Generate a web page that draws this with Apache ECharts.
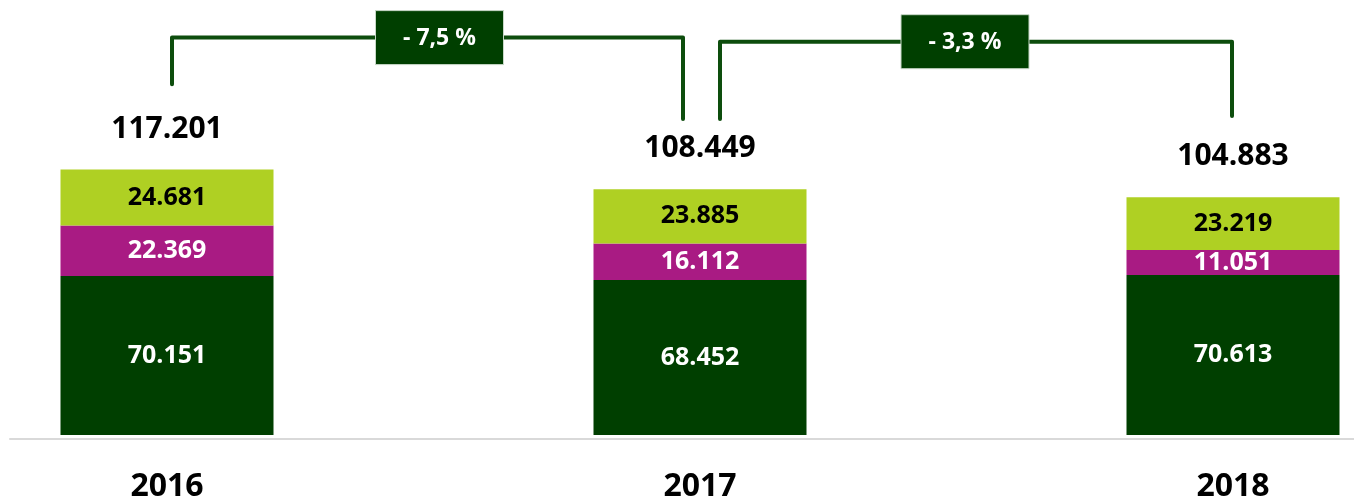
<!DOCTYPE html>
<html>
<head>
<meta charset="utf-8">
<script src="https://cdn.jsdelivr.net/npm/echarts@6/dist/echarts.min.js"></script>
<style>
html,body{margin:0;padding:0;background:#fff;}
#c{width:1354px;height:503px;}
</style>
</head>
<body>
<div id="c"></div>
<script>
const categories = ['2016', '2017', '2018'];
const baseValues = [70151, 68452, 70613];
const midValues = [22369, 16112, 11051];
const topValues = [24681, 23885, 23219];
const totals = [117201, 108449, 104883];
const changeLabels = ['- 7,5 %', '- 3,3 %'];

// bracket annotations (value-axis levels for the bracket line and its leg ends)
const brackets = [
  { from: 0, to: 1, level: 175400, legEnds: [154800, 139500], xShift: [5, -17], boxShift: 12 },
  { from: 1, to: 2, level: 173600, legEnds: [139500, 140800], xShift: [20, -1], boxShift: -11 }
];

const fmt = v => String(v).replace(/\B(?=(\d{3})+(?!\d))/g, '.');
const FONT = '"Open Sans", "Liberation Sans", sans-serif';
const DARK = '#003f00';
const MAG = '#a91b83';
const LIME = '#afd023';
const LINE = '#0d4d0d';

const chart = echarts.init(document.getElementById('c'), null, { renderer: 'canvas' });

const innerLabel = color => ({
  show: true,
  position: 'inside',
  color: color,
  fontFamily: FONT,
  fontWeight: 'bold',
  fontSize: 25,
  formatter: p => fmt(p.value)
});

chart.setOption({
  animation: false,
  backgroundColor: '#fff',
  grid: [
    { left: 167, right: 121, top: 0, bottom: 64 },
    { left: 10, right: 0, top: 0, bottom: 64 }
  ],
  xAxis: [
    {
      type: 'category',
      gridIndex: 0,
      boundaryGap: false,
      data: categories,
      axisLine: { show: false },
      axisTick: { show: false },
      axisLabel: {
        color: '#000',
        fontFamily: FONT,
        fontWeight: 'bold',
        fontSize: 32,
        margin: 36
      }
    },
    {
      type: 'value',
      gridIndex: 1,
      min: 0, max: 1,
      axisLine: { show: true, onZero: false, lineStyle: { color: '#d9d9d9', width: 2 } },
      axisTick: { show: false },
      axisLabel: { show: false },
      splitLine: { show: false }
    }
  ],
  yAxis: [
    { type: 'value', gridIndex: 0, min: 0, max: 192000, show: false },
    { type: 'value', gridIndex: 1, min: 0, max: 1, show: false }
  ],
  series: [
    {
      type: 'bar', stack: 'a', data: baseValues, barWidth: 213, clip: false,
      itemStyle: { color: DARK }, label: innerLabel('#fff')
    },
    {
      type: 'bar', stack: 'a', data: midValues, barWidth: 213, clip: false,
      itemStyle: { color: MAG }, label: innerLabel('#fff')
    },
    {
      type: 'bar', stack: 'a', data: topValues, barWidth: 213, clip: false,
      itemStyle: { color: LIME }, label: innerLabel('#000')
    },
    {
      type: 'line', data: totals, clip: false,
      symbol: 'circle', symbolSize: 1,
      itemStyle: { color: 'rgba(0,0,0,0)' },
      lineStyle: { width: 0, opacity: 0 },
      z: 5,
      label: {
        show: true, position: 'top', distance: 25,
        color: '#000', fontFamily: FONT, fontWeight: 'bold', fontSize: 30,
        formatter: p => fmt(p.value)
      }
    },
    {
      type: 'custom',
      xAxisIndex: 0, yAxisIndex: 0,
      data: brackets.map(b => [b.from, b.level]),
      clip: false,
      z: 10,
      renderItem: (params, api) => {
        const b = brackets[params.dataIndex];
        const l = api.coord([b.from, b.level]);
        const r = api.coord([b.to, b.level]);
        const lb = api.coord([b.from, b.legEnds[0]]);
        const rb = api.coord([b.to, b.legEnds[1]]);
        const xl = l[0] + b.xShift[0];
        const xr = r[0] + b.xShift[1];
        const y = l[1];
        const cx = (xl + xr) / 2 + b.boxShift;
        const bw = 128, bh = 54;
        return {
          type: 'group',
          children: [
            {
              type: 'polyline',
              shape: { points: [[xl, lb[1]], [xl, y], [xr, y], [xr, rb[1]]] },
              style: { stroke: LINE, lineWidth: 4, fill: null, lineJoin: 'round', lineCap: 'round' }
            },
            {
              type: 'rect',
              shape: { x: cx - bw / 2, y: y - bh / 2, width: bw, height: bh },
              style: { fill: DARK, stroke: '#c8d8c8', lineWidth: 1 }
            },
            {
              type: 'text',
              style: {
                x: cx, y: y + 1,
                text: changeLabels[params.dataIndex],
                fill: '#fff',
                font: 'bold 23px ' + FONT,
                align: 'center', verticalAlign: 'middle'
              }
            }
          ]
        };
      }
    }
  ]
});
</script>
</body>
</html>
